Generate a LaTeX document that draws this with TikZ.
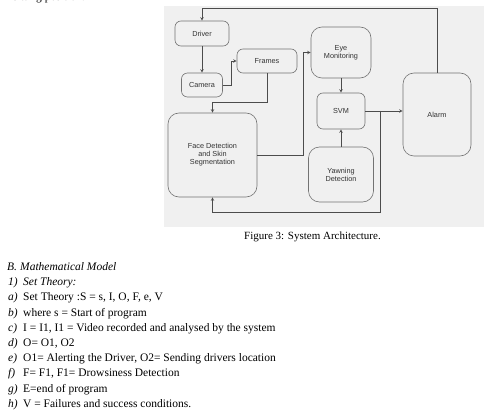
\documentclass[tikz,border=0pt]{standalone}
\usepackage{fontspec}
\setmainfont{Liberation Serif}
\newfontfamily\diagfont{Liberation Sans}
\usetikzlibrary{arrows}
\tikzstyle{block} = [rectangle, rounded corners=6pt, draw=black!55, line width=0.6pt, inner sep=0pt, align=center, font=\diagfont\fontsize{7.3}{8}\selectfont, text=black!80]
\tikzstyle{bigblock} = [block, rounded corners=11pt]
\tikzstyle{arrow} = [line width=0.6pt, draw=black!70, ->, >=stealth]
\tikzstyle{line} = [anchor=base west, inner sep=0pt, font=\fontsize{11.5}{14}\selectfont]
\newcommand{\itemlab}[1]{\makebox[15pt][l]{\textit{#1}}}

\begin{document}
\begin{tikzpicture}[x=1pt, y=-1pt]
    \useasboundingbox (0,0) rectangle (500,414);
    %background
    \fill[black!6] (164,6) rectangle (484,227);

    %nodes
    \node (driver) [block, minimum width=54pt, minimum height=25pt] at (202,33.5) {Driver};
    \node (camera) [block, minimum width=41pt, minimum height=24pt] at (202,85) {Camera};
    \node (frames) [block, minimum width=60pt, minimum height=24pt] at (267,61) {Frames};
    \node (eye) [bigblock, minimum width=60pt, minimum height=51pt] at (341,52.5) {Eye\\Monitoring};
    \node (svm) [block, minimum width=48pt, minimum height=36pt] at (341,111) {SVM};
    \node (yawn) [bigblock, minimum width=65pt, minimum height=55pt] at (341,174.5) {Yawning\\Detection};
    \node (face) [bigblock, minimum width=89pt, minimum height=84pt] at (212.5,155) {Face Detection\\and Skin\\Segmentation};
    \node (alarm) [bigblock, minimum width=68pt, minimum height=83pt] at (437,114.5) {Alarm};
    \coordinate (split) at (380,111);

    %arrows
    \draw [arrow] (alarm.north) -- ++(0,-64) -| (driver.north);
    \draw [arrow] (driver.south) -- (camera.north);
    \draw [arrow] (camera.east) -- ++(8,0) |- (frames.west);
    \draw [arrow] (frames.south) -- ++(0,29) -| (face.north);
    \draw [arrow] (face.east) -- ++(46,0) |- (eye.west);
    \draw [arrow] (eye.south) -- (svm.north);
    \draw [arrow] (yawn.north) -- (svm.south);
    \draw [arrow] (svm.east) -- (svm.east -| alarm.west);
    \draw [arrow] (split) -- ++(0,101) -| (face.south);

    %caption and text
    \node (caption) [font=\fontsize{11}{12}\selectfont, inner sep=0pt] at (312.5,236.5) {Figure 3: System Architecture.};
    \node (prev) [line] at (13,0.5) {sitting position.};
    \node (secB) [line] at (7,270.5) {\makebox[13pt][l]{\textit{B.}}\textit{Mathematical Model}};
    \node (sub1) [line] at (8,285.7) {\itemlab{1)}\textit{Set Theory:}};
    \node (ia) [line] at (8,300.9) {\itemlab{a)}Set Theory :S = s, I, O, F, e, V};
    \node (ib) [line] at (8,316.1) {\itemlab{b)}where s = Start of program};
    \node (ic) [line] at (8,331.3) {\itemlab{c)}I = I1, I1 = Video recorded and analysed by the system};
    \node (id) [line] at (8,346.5) {\itemlab{d)}O= O1, O2};
    \node (ie) [line] at (8,361.7) {\itemlab{e)}O1= Alerting the Driver, O2= Sending drivers location};
    \node (if) [line] at (8,376.9) {\itemlab{f)}F= F1, F1= Drowsiness Detection};
    \node (ig) [line] at (8,392.1) {\itemlab{g)}E=end of program};
    \node (ih) [line] at (8,407.3) {\itemlab{h)}V = Failures and success conditions.};
\end{tikzpicture}
\end{document}
